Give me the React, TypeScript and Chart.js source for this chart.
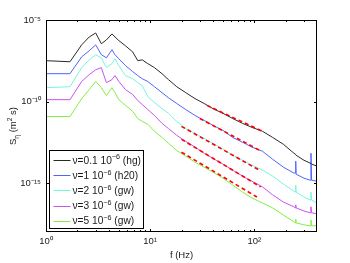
import React, { useEffect, useRef } from 'react';
import { Chart, registerables } from 'chart.js';
Chart.register(...registerables);

// Frequencies (Hz) shared by all spectra
const freqs = [1, 1.7, 2.2, 2.6, 3.0, 3.4, 3.8, 4.3, 4.6, 5.0, 5.8, 6.8, 7.6, 8.4, 9.5, 11, 13, 15, 18, 22, 27, 33, 40, 50, 62, 77, 95, 120, 150, 190, 240, 248, 250, 252, 300, 345, 350, 355, 400];

// Spectra S_eta (m^2 s)
const specHg = [3.2e-8, 2.75e-8, 3.0e-7, 9.1e-7, 1.6e-6, 3.5e-7, 6.0e-7, 1.4e-6, 9.1e-7, 5.5e-7, 2.6e-7, 1.1e-7, 3.2e-8, 3.6e-8, 2.1e-8, 1.2e-8, 5.1e-9, 2.2e-9, 8.1e-10, 3.5e-10, 1.5e-10, 7.6e-11, 3.7e-11, 1.9e-11, 9.1e-12, 4.6e-12, 2.6e-12, 1.5e-12, 6.3e-13, 2.4e-13, 6.8e-14, 5.9e-14, 5.9e-14, 5.1e-14, 2.5e-14, 1.66e-14, 1.6e-14, 1.45e-14, 1.1e-14];
const specH2o = [5.1e-9, 5.1e-9, 5.5e-8, 1.3e-7, 3.0e-7, 7.4e-8, 4.8e-8, 1.5e-7, 7.4e-8, 4.2e-8, 1.6e-8, 6.8e-9, 3.9e-9, 2.5e-9, 1.7e-9, 8.1e-10, 3.5e-10, 1.7e-10, 7.6e-11, 3.2e-11, 1.4e-11, 6.9e-12, 3.5e-12, 1.7e-12, 6.3e-13, 3.2e-13, 1.6e-13, 8.9e-14, 2.9e-14, 9.5e-15, 4.1e-15, 4.1e-15, 2.2e-14, 3.5e-15, 2.0e-15, 1.5e-15, 6.8e-14, 1.5e-15, 1.3e-15];
const specGw2 = [7.1e-10, 8.1e-10, 1.2e-8, 3.6e-8, 7.4e-8, 4.8e-8, 1.2e-8, 2.1e-8, 4.2e-8, 1.6e-8, 3.9e-9, 2.5e-9, 1.45e-9, 9.5e-10, 2.0e-10, 8.7e-11, 3.7e-11, 1.9e-11, 6.0e-12, 2.2e-12, 1.1e-12, 5.5e-13, 2.75e-13, 1.2e-13, 5.1e-14, 2.5e-14, 1.26e-14, 6.2e-15, 2.7e-15, 8.7e-16, 3.2e-16, 2.8e-16, 7.6e-16, 2.8e-16, 1.4e-16, 9.1e-17, 2.8e-16, 9.1e-17, 6.0e-17];
const specGw3 = [1.3e-10, 1.3e-10, 1.7e-9, 4.5e-9, 8.9e-9, 1.2e-8, 1.45e-9, 2.2e-9, 3.9e-9, 1.7e-9, 5.4e-10, 2.7e-10, 1.15e-10, 6.6e-11, 3.2e-11, 1.4e-11, 4.6e-12, 2.2e-12, 8.5e-13, 3.6e-13, 1.6e-13, 6.8e-14, 3.3e-14, 1.45e-14, 6.2e-15, 2.7e-15, 1.3e-15, 5.8e-16, 1.9e-16, 6.9e-17, 3.5e-17, 3.0e-17, 4.6e-17, 3.0e-17, 1.95e-17, 1.5e-17, 3.5e-17, 1.5e-17, 1.3e-17];
const specGw5 = [1.2e-11, 1.2e-11, 1.5e-10, 5.4e-10, 1.7e-9, 7.1e-10, 2.3e-10, 7.1e-10, 3.5e-10, 1.3e-10, 5.8e-11, 2.5e-11, 9.1e-12, 6.0e-12, 4.0e-12, 1.5e-12, 6.3e-13, 2.75e-13, 1.0e-13, 4.5e-14, 1.9e-14, 9.5e-15, 4.7e-15, 2.0e-15, 7.6e-16, 2.8e-16, 1.2e-16, 6.0e-17, 3.0e-17, 1.1e-17, 4.2e-18, 3.6e-18, 6.3e-18, 3.6e-18, 2.75e-18, 2.4e-18, 5.5e-18, 2.4e-18, 2.4e-18];

const seriesLabels = ['ν=0.1 10^{−6} (hg)', 'ν=1 10^{−6} (h20)', 'ν=2 10^{−6} (gw)', 'ν=3 10^{−6} (gw)', 'ν=5 10^{−6} (gw)'];
const seriesColors = ['#2a2a2a', '#4d64ff', '#74f6dc', '#c854f0', '#84ee44'];

// Power-law fits (red dashed): start/end frequency and value
const fitFreqs = [[35, 120], [30, 115], [20, 115], [20, 115], [20, 106]];
const fitValues = [[5.8e-11, 1.5e-12], [9.1e-12, 9.5e-14], [3.0e-12, 5.6e-15], [4.8e-13, 5.8e-16], [7.8e-14, 1.4e-16]];

const xMajorTicks = [1, 10, 100];
const xTickLabels = ['10⁰', '10¹', '10²'];
const xMinorTicks = [2, 3, 4, 5, 6, 7, 8, 9, 20, 30, 40, 50, 60, 70, 80, 90, 200, 300];
const yMajorTicks = [1e-15, 1e-10, 1e-5];
const yTickLabels = ['10⁻¹⁵', '10⁻¹⁰', '10⁻⁵'];

const xTitle = 'f (Hz)';
const yTitle = 'S_{η} (m^{2} s)';

const FONT = '"Liberation Sans", Arial, Helvetica, sans-serif';
const TEXT = '#1a1a1a';

function richParts(text: string) {
  return text.split(/(\^\{[^}]*\}|_\{[^}]*\})/).filter(Boolean).map((p) => {
    if (p.startsWith('^{')) return { t: p.slice(2, -1), k: 'sup' };
    if (p.startsWith('_{')) return { t: p.slice(2, -1), k: 'sub' };
    return { t: p, k: 'n' };
  });
}

function drawRich(ctx: CanvasRenderingContext2D, text: string, x: number, y: number, size: number, measureOnly = false) {
  let cx = x;
  for (const p of richParts(text)) {
    const s = p.k === 'n' ? size : size * 0.7;
    const dy = p.k === 'sup' ? -size * 0.42 : p.k === 'sub' ? size * 0.28 : 0;
    ctx.font = `${s}px ${FONT}`;
    if (!measureOnly) ctx.fillText(p.t, cx, y + dy);
    cx += ctx.measureText(p.t).width;
  }
  return cx - x;
}

const decorPlugin = {
  id: 'decor',
  afterDraw(chart: any) {
    const { ctx, chartArea: a, scales } = chart;
    const xs = scales.x;
    const ys = scales.y;
    ctx.save();
    ctx.strokeStyle = '#000';
    ctx.lineWidth = 1;
    // inward ticks
    ctx.beginPath();
    const xt = (v: number, len: number) => {
      const px = Math.round(xs.getPixelForValue(v)) + 0.5;
      ctx.moveTo(px, a.bottom);
      ctx.lineTo(px, a.bottom - len);
      ctx.moveTo(px, a.top);
      ctx.lineTo(px, a.top + len);
    };
    xMajorTicks.forEach((v) => xt(v, 3));
    xMinorTicks.forEach((v) => xt(v, 2));
    yMajorTicks.forEach((v) => {
      const py = Math.round(ys.getPixelForValue(v)) + 0.5;
      ctx.moveTo(a.left, py);
      ctx.lineTo(a.left + 3, py);
      ctx.moveTo(a.right, py);
      ctx.lineTo(a.right - 3, py);
    });
    ctx.stroke();
    // box
    ctx.strokeRect(Math.round(a.left) + 0.5, Math.round(a.top) + 0.5, Math.round(a.right - a.left) - 1, Math.round(a.bottom - a.top) - 1);

    // legend
    const lx = Math.round(a.left) + 3.5;
    const lw = 94;
    const lh = 78;
    const ly = Math.round(a.bottom) - 3.5 - lh;
    ctx.fillStyle = '#fff';
    ctx.fillRect(lx, ly, lw, lh);
    ctx.strokeRect(lx, ly, lw, lh);
    ctx.textBaseline = 'alphabetic';
    ctx.textAlign = 'left';
    seriesLabels.forEach((lab, i) => {
      const cy = ly + 9.5 + i * 15.2;
      ctx.strokeStyle = seriesColors[i];
      ctx.beginPath();
      ctx.moveTo(lx + 4, Math.round(cy) + 0.5);
      ctx.lineTo(lx + 21, Math.round(cy) + 0.5);
      ctx.stroke();
      ctx.fillStyle = TEXT;
      drawRich(ctx, lab, lx + 23, cy + 3.6, 10.2);
    });

    // y title
    ctx.save();
    ctx.translate(13, (a.top + a.bottom) / 2);
    ctx.rotate(-Math.PI / 2);
    ctx.fillStyle = TEXT;
    const w = drawRich(ctx, yTitle, 0, 0, 9.5, true);
    drawRich(ctx, yTitle, -w / 2, 3.3, 9.5);
    ctx.restore();
    ctx.restore();
  },
};

export default function App() {
  const ref = useRef<HTMLCanvasElement>(null);
  useEffect(() => {
    document.body.style.margin = '0';
    const series = [specHg, specH2o, specGw2, specGw3, specGw5];
    const main = series.map((vals, i) => ({
      label: seriesLabels[i],
      data: freqs.map((f, j) => ({ x: f, y: vals[j] })),
      borderColor: seriesColors[i],
      borderWidth: 1,
      pointRadius: 0,
      tension: 0,
      fill: false,
      order: 1,
    }));
    const fits = fitFreqs.map((ff, i) => ({
      label: 'fit ' + i,
      data: ff.map((f, j) => ({ x: f, y: fitValues[i][j] })),
      borderColor: '#ff0000',
      borderWidth: 1.6,
      borderDash: [4, 3],
      pointRadius: 0,
      fill: false,
      order: 0,
    }));
    const chart = new Chart(ref.current!, {
      type: 'line',
      data: { datasets: [...main, ...fits] as any },
      options: {
        animation: false,
        responsive: false,
        devicePixelRatio: 1,
        events: [],
        layout: { padding: { left: 0, top: 20, right: 33, bottom: 0 } },
        plugins: { legend: { display: false }, tooltip: { enabled: false } },
        scales: {
          x: {
            type: 'logarithmic',
            min: 1,
            max: 400,
            grid: { display: false, drawTicks: false },
            border: { display: false },
            afterBuildTicks: (s: any) => {
              s.ticks = xMajorTicks.map((v) => ({ value: v, major: true }));
            },
            afterFit: (s: any) => {
              s.height = 31;
            },
            ticks: {
              autoSkip: false,
              maxRotation: 0,
              padding: 4,
              color: TEXT,
              font: { family: FONT, size: 9.5 },
              callback: (_v: any, i: number) => xTickLabels[i],
            },
            title: {
              display: true,
              text: xTitle,
              color: TEXT,
              font: { family: FONT, size: 9.5 },
              padding: { top: 0, bottom: 2 },
            },
          },
          y: {
            type: 'logarithmic',
            min: 1e-18,
            max: 1e-5,
            grid: { display: false, drawTicks: false },
            border: { display: false },
            afterBuildTicks: (s: any) => {
              s.ticks = yMajorTicks.map((v) => ({ value: v, major: true }));
            },
            afterFit: (s: any) => {
              s.width = 46;
            },
            ticks: {
              autoSkip: false,
              padding: 5,
              color: TEXT,
              font: { family: FONT, size: 9.5 },
              callback: (_v: any, i: number) => yTickLabels[i],
            },
          },
        },
      },
      plugins: [decorPlugin],
    });
    return () => chart.destroy();
  }, []);
  return (
    <div style={{ width: 350, height: 263, background: '#fff' }}>
      <canvas ref={ref} width={350} height={263} />
    </div>
  );
}
